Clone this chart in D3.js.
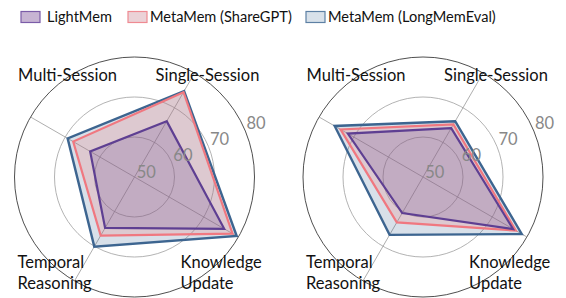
<!DOCTYPE html>
<html>
<head>
<meta charset="utf-8">
<script src="https://cdn.jsdelivr.net/npm/d3@7"></script>
<style>
  body { margin: 0; background: #fff; }
  svg { display: block; font-family: Lato, "Liberation Sans", sans-serif; }
</style>
</head>
<body>
<script>
// categories, starting at Single-Session and going counter-clockwise round the chart
const categories = ['Single-Session', 'Multi-Session', 'Temporal Reasoning', 'Knowledge Update'];
const seriesNames = ['LightMem', 'MetaMem (ShareGPT)', 'MetaMem (LongMemEval)'];
const ringTicks = [50, 60, 70, 80];

// left panel
const leftLightMem = [66.1, 62.8, 64.7, 75.9];
const leftShareGPT = [74.5, 67.7, 66.9, 78.3];
const leftLongMemEval = [74.8, 69.3, 70.1, 79.5];
// right panel
const rightLightMem = [64.1, 71.7, 60.4, 76.0];
const rightShareGPT = [65.2, 73.8, 63.1, 76.8];
const rightLongMemEval = [66.1, 75.5, 66.7, 78.5];

const w = 566;
const h = 298;

const svg = d3.select('body')
  .append('svg')
  .attr('width', w)
  .attr('height', h);

// styles, drawn back to front
const styles = [
  { stroke: '#3d6590', fill: 'rgb(59,101,144)', op: 0.2, sw: 2.4, box: '#d8e1ea', boxStroke: '#5d80a4' },
  { stroke: '#f07880', fill: 'rgb(240,128,128)', op: 0.24, sw: 2.2, box: '#ebd2d7', boxStroke: '#ef8a92' },
  { stroke: '#5e3f92', fill: 'rgb(90,60,140)', op: 0.2, sw: 2.2, box: '#c7b4d3', boxStroke: '#7b5ca8' },
];

const r = d3.scaleLinear().domain([50, 80]).range([0, 120]);
// d3 radial angle: 0 at 12 o'clock, clockwise
const angle = d3.scaleOrdinal()
  .domain(categories)
  .range([30, -60, -150, -240].map((a) => a * Math.PI / 180));

const drawRadar = (cx, cy, lists) => {
  const g = svg.append('g').attr('transform', `translate(${cx}, ${cy})`);

  // rings
  g.selectAll('circle.ring')
    .data(ringTicks.filter((t) => t > 50))
    .enter()
    .append('circle')
    .attr('r', (d) => r(d))
    .attr('fill', 'none')
    .attr('stroke', (d) => d === 80 ? '#222' : '#a0a0a0')
    .attr('stroke-width', 0.8);

  // spokes
  g.selectAll('line.spoke')
    .data(categories)
    .enter()
    .append('line')
    .attr('x1', 0)
    .attr('y1', 0)
    .attr('x2', (d) => r(80) * Math.sin(angle(d)))
    .attr('y2', (d) => -r(80) * Math.cos(angle(d)))
    .attr('stroke', '#999')
    .attr('stroke-width', 0.8);

  const line = d3.lineRadial()
    .angle((d) => angle(d.cat))
    .radius((d) => r(d.v))
    .curve(d3.curveLinearClosed);

  lists.forEach((vals, i) => {
    const pts = vals.map((v, j) => ({ cat: categories[j], v: v }));
    const s = styles[i];
    g.append('path')
      .attr('d', line(pts))
      .attr('fill', s.fill)
      .attr('fill-opacity', s.op)
      .attr('stroke', s.stroke)
      .attr('stroke-width', s.sw)
      .attr('stroke-linejoin', 'miter');
  });

  // radial tick labels
  const la = 24 * Math.PI / 180;
  g.selectAll('text.tick')
    .data(ringTicks)
    .enter()
    .append('text')
    .attr('x', (d) => (r(d) + 13) * Math.cos(la))
    .attr('y', (d) => -(r(d) + 13) * Math.sin(la))
    .attr('dy', '0.36em')
    .attr('text-anchor', 'middle')
    .attr('fill', '#888')
    .style('font-size', '16.5px')
    .text((d) => d);

  // category labels
  const labels = [
    { lines: ['Single-Session'], x: 73, y: -96, anchor: 'middle' },
    { lines: ['Multi-Session'], x: -67, y: -96, anchor: 'middle' },
    { lines: ['Temporal', 'Reasoning'], x: -117, y: 91, anchor: 'start' },
    { lines: ['Knowledge', 'Update'], x: 46, y: 91, anchor: 'start' },
  ];
  labels.forEach((l) => {
    const t = g.append('text')
      .attr('x', l.x)
      .attr('y', l.y)
      .attr('text-anchor', l.anchor)
      .attr('fill', '#111')
      .style('font-size', '16.5px');
    l.lines.forEach((s, k) => {
      t.append('tspan')
        .attr('x', l.x)
        .attr('dy', k === 0 ? 0 : 21)
        .text(s);
    });
  });
};

drawRadar(134.5, 177, [leftLongMemEval, leftShareGPT, leftLightMem]);
drawRadar(423, 177, [rightLongMemEval, rightShareGPT, rightLightMem]);

// legend
const legendX = [21, 128, 306];
const leg = svg.append('g');
seriesNames.forEach((name, i) => {
  const s = styles[2 - i];
  leg.append('rect')
    .attr('x', legendX[i])
    .attr('y', 11.5)
    .attr('width', 19)
    .attr('height', 11)
    .attr('fill', s.box)
    .attr('stroke', s.boxStroke)
    .attr('stroke-width', 1.2);
  leg.append('text')
    .attr('x', legendX[i] + (i === 0 ? 26 : 22))
    .attr('y', 22)
    .attr('fill', '#111')
    .style('font-size', '14.6px')
    .text(name);
});
</script>
</body>
</html>
